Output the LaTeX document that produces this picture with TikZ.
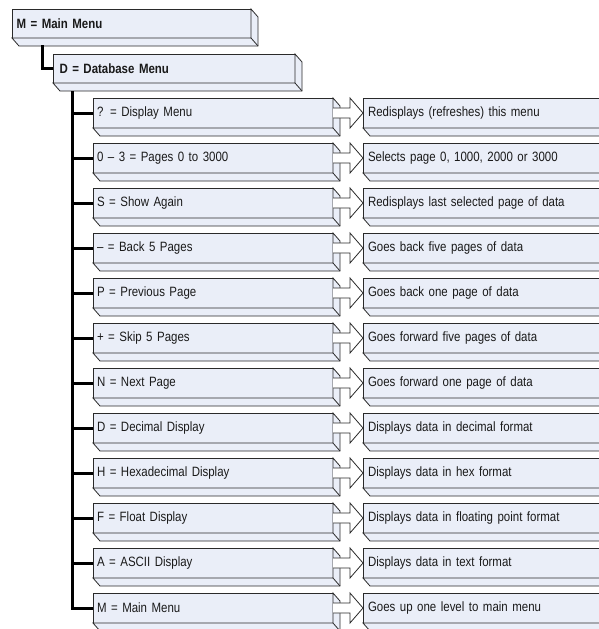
\documentclass[tikz,border=0pt]{standalone}
\usepackage{fontspec}
\setmainfont[FakeStretch=0.85]{Liberation Sans}
\usetikzlibrary{calc}
\definecolor{boxfill}{HTML}{EAEEF8}
\definecolor{edgec}{HTML}{2A2A2A}
\definecolor{textc}{HTML}{1A1A1A}
\newcommand\boxdepth[1]{%
  \filldraw[depthst] (#1.north east) -- ++(7,8) -- ([shift={(7,8)}]#1.south east)
    -- ([shift={(7,8)}]#1.south west) -- (#1.south west) -- (#1.south east) -- cycle;
  \draw[depthst] (#1.south east) -- ++(7,8);}
\begin{document}
\begin{tikzpicture}[x=1pt,y=-1pt,
  depthst/.style={draw=edgec, fill=boxfill, line width=0.8pt, line join=miter},
  basebox/.style={draw=edgec, fill=boxfill, line width=0.8pt, inner ysep=0pt,
    outer sep=0pt, anchor=north west, align=left, text=textc,
    font=\fontsize{13.5}{15}\selectfont},
  menubox/.style={basebox, minimum height=29pt, font=\fontsize{13.5}{15}\selectfont\bfseries},
  itembox/.style={basebox, minimum height=30pt, text width=232pt, inner xsep=4pt},
  descbox/.style={basebox, minimum height=30pt, text width=270pt, inner xsep=5pt},
  trunk/.style={draw=black, line width=3pt},
  blockarrow/.style={draw=edgec, fill=white, line width=0.8pt, line join=miter}]
\useasboundingbox (0,0) rectangle (599,629);
\clip (0,0) rectangle (599,629);
% main menus
\node[menubox, text width=230pt, inner xsep=4.5pt] (main) at (12,9) {M = Main Menu};
\boxdepth{main}
\node[menubox, text width=229pt, inner xsep=6.5pt] (db) at (53,54) {D = Database Menu};
\boxdepth{db}
\coordinate (mt) at ([shift={(30,7)}]main.south west);
\draw[trunk] (mt) |- (db.west);
\coordinate (dbt) at ([shift={(19,8)}]db.south west);
% items
\foreach \i/\l/\r in {
  1/{? = Display Menu}/{Redisplays (refreshes) this menu},
  2/{0 – 3 = Pages 0 to 3000}/{Selects page 0, 1000, 2000 or 3000},
  3/{S = Show Again}/{Redisplays last selected page of data},
  4/{– = Back 5 Pages}/{Goes back five pages of data},
  5/{P = Previous Page}/{Goes back one page of data},
  6/{+ = Skip 5 Pages}/{Goes forward five pages of data},
  7/{N = Next Page}/{Goes forward one page of data},
  8/{D = Decimal Display}/{Displays data in decimal format},
  9/{H = Hexadecimal Display}/{Displays data in hex format},
  10/{F = Float Display}/{Displays data in floating point format},
  11/{A = ASCII Display}/{Displays data in text format},
  12/{M = Main Menu}/{Goes up one level to main menu}}{
  \pgfmathsetmacro\cy{98+45*(\i-1)}
  \node[itembox] (l\i) at (93,\cy) {\l};
  \boxdepth{l\i}
  \node[descbox] (r\i) at (363,\cy) {\r};
  \boxdepth{r\i}
  \draw[blockarrow] ($(l\i.east)+(0,-5)$) -- ($(r\i.west)+(-13,-5)$)
    -- ($(r\i.west)+(-13,-15)$) -- (r\i.west) -- ($(r\i.west)+(-13,15)$)
    -- ($(r\i.west)+(-13,5)$) -- ($(l\i.east)+(0,5)$);
  \draw[trunk] (dbt) |- (l\i.west);
}
\end{tikzpicture}
\end{document}
